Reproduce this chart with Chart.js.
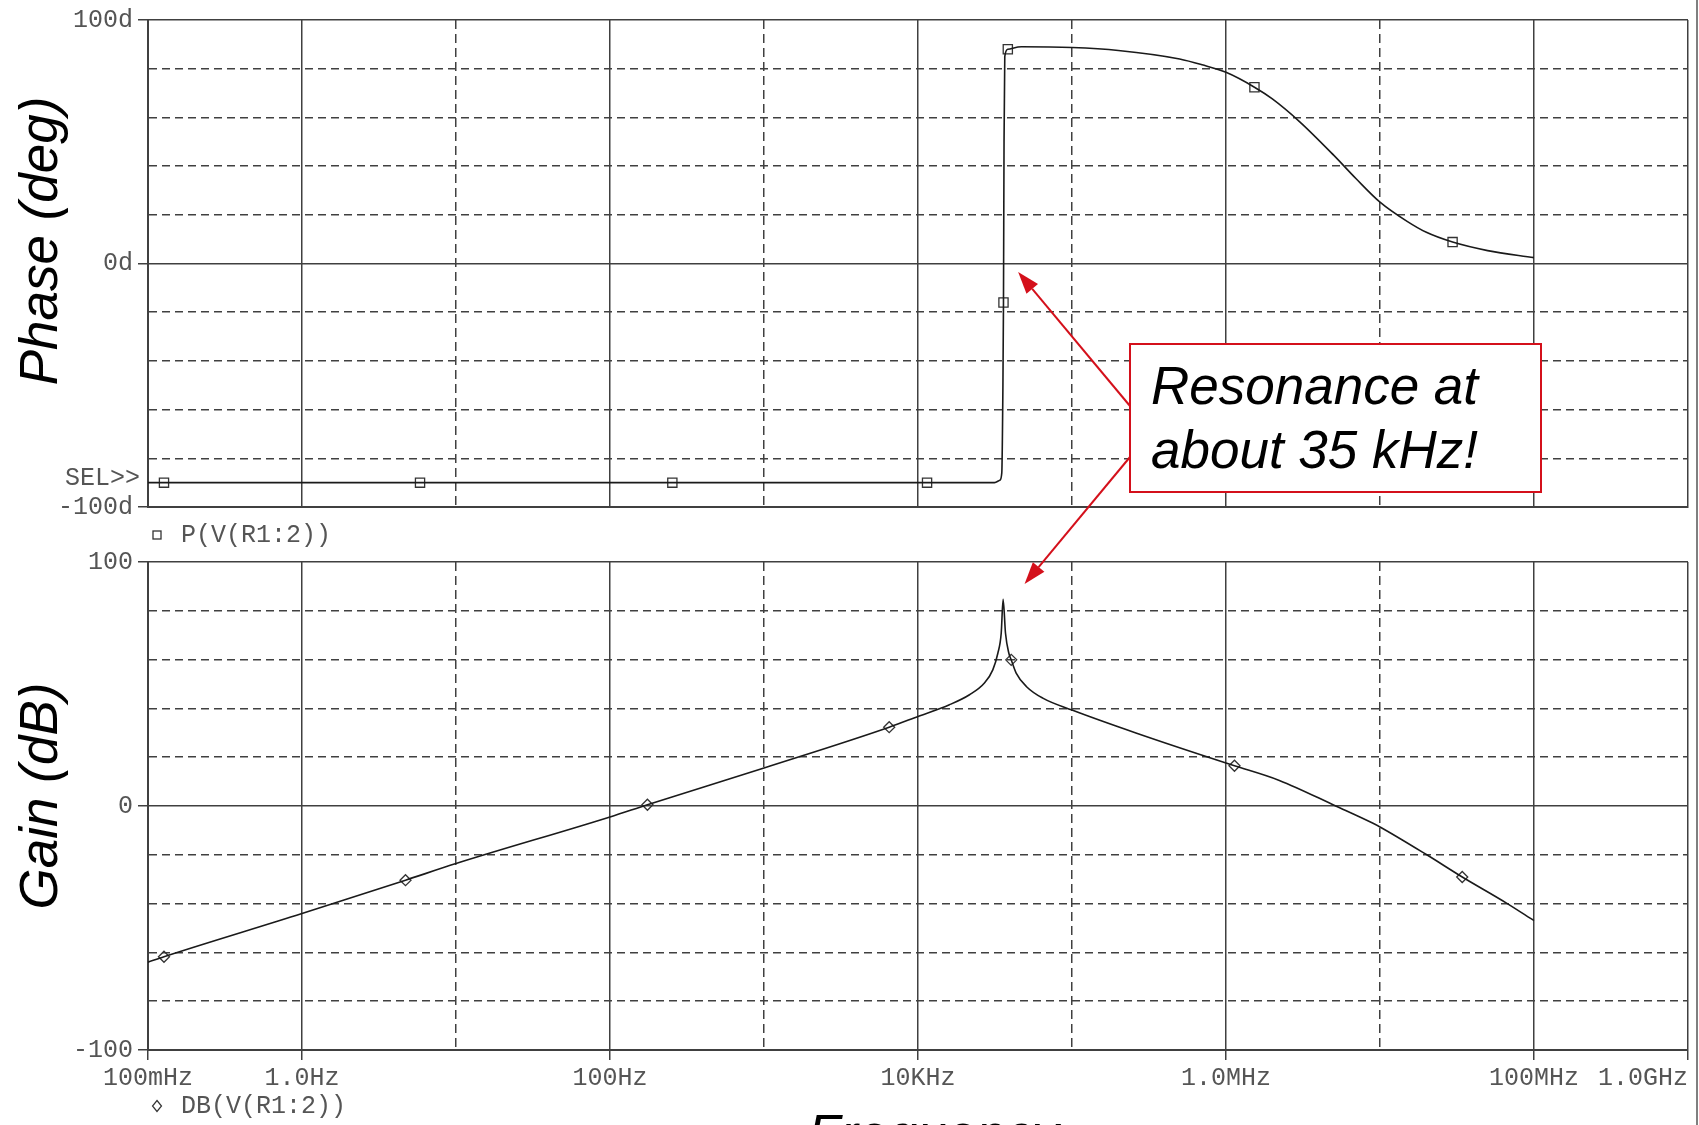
<!DOCTYPE html>
<html>
<head>
<meta charset="utf-8">
<title>Resonance - phase and gain</title>
<script src="https://cdn.jsdelivr.net/npm/chart.js@4.4.1/dist/chart.umd.min.js"></script>
<style>
  body { margin: 0; background: #fff; }
  #wrap { position: relative; width: 1699px; height: 1125px; overflow: hidden; }
  #wrap canvas { position: absolute; left: 0; top: 0; }
</style>
</head>
<body>
<div id="wrap">
  <canvas id="phaseChart" width="1699" height="1125"></canvas>
  <canvas id="gainChart" width="1699" height="1125"></canvas>
</div>
<script>
// frequency axis, one tick per decade
const freqTicks = [0.1, 1, 10, 100, 1e3, 1e4, 1e5, 1e6, 1e7, 1e8, 1e9];
const freqTickLabels = ["100mHz", "1.0Hz", "", "100Hz", "", "10KHz", "", "1.0MHz", "", "100MHz", "1.0GHz      "];
const solidFreqs = [0.1, 1, 100, 1e4, 1e6, 1e8, 1e9];

const phaseTickValues = [100, 0, -100];
const phaseTickText = ["100d", "0d", "-100d"];
const gainTickValues = [100, 0, -100];
const gainTickText = ["100", "0", "-100"];

// P(V(R1:2)) in degrees
const phaseFreq = [0.1, 1, 10, 100, 1e3, 1e4, 2e4, 3.14e4, 3.4e4, 3.5e4, 3.56e4, 3.59e4, 3.62e4, 3.66e4, 3.83e4, 4.7e4,
  1e5, 2e5, 5e5, 7e5, 1e6, 1.53e6, 2e6, 3e6, 5e6, 7e6, 1e7, 1.5e7, 2e7, 2.96e7, 5e7, 1e8];
const phaseDeg = [-90, -90, -90, -90, -90, -90, -90, -90, -89, -86, -50, -16, 50, 85, 88, 89,
  88.7, 87.5, 84, 81.6, 78.5, 72.4, 67.6, 58.3, 44.5, 34.8, 25.2, 17.3, 12.8, 8.8, 5.3, 2.4];
const phaseMarkFreq = [0.127, 5.84, 254, 1.145e4, 3.59e4, 3.83e4, 1.53e6, 2.96e7];
const phaseMarkDeg = [-90, -90, -90, -90, -16, 88, 72.4, 8.8];

// DB(V(R1:2))
const gainFreq = [0.1, 0.127, 1, 4.7, 10, 100, 175, 1e3, 6.5e3, 1e4, 1.6e4, 2.16e4, 2.7e4, 3.06e4, 3.3e4, 3.47e4,
  3.57e4, 3.7e4, 3.89e4, 4.03e4, 4.34e4, 5.05e4, 6.46e4, 1e5, 2.6e5, 1e6, 1.135e6, 2.22e6, 5.2e6, 8.94e6,
  1e7, 2e7, 3.42e7, 6.59e7, 1e8];
const gainDb = [-64, -61.8, -44.1, -30.4, -23.6, -4.5, 0.5, 15.6, 32.3, 36.7, 41.5, 45.6, 50.4, 55.8, 62.6, 70.8,
  84.7, 70.8, 62.6, 59.9, 54.5, 49, 44.2, 39.3, 29.9, 17.6, 16.5, 10.5, -0.1, -7,
  -8.6, -19.9, -29.1, -39.7, -47];
const gainMarkFreq = [0.127, 4.7, 175, 6.5e3, 4.03e4, 1.135e6, 3.42e7];
const gainMarkDb = [-61.8, -30.4, 0.5, 32.3, 59.9, 16.5, -29.1];

const gridColor = "#404040";
const textGray = "#555";
const curveColor = "#1a1a1a";
const red = "#d4101b";
const monoFont = { family: "'Liberation Mono', 'DejaVu Sans Mono', monospace", size: 25 };
const monoCss = "25px 'Liberation Mono', 'DejaVu Sans Mono', monospace";
const titleCss = "italic 53px 'Liberation Sans', Arial, sans-serif";

const pts = (xs, ys) => xs.map((x, i) => ({ x: x, y: ys[i] }));

function freqAxis(showLabels) {
  return {
    type: "logarithmic",
    min: 0.1,
    max: 1e9,
    afterBuildTicks: s => { s.ticks = freqTicks.map(v => ({ value: v })); },
    afterFit: s => { s.height = showLabels ? 40 : 0; s.paddingLeft = 0; s.paddingRight = 0; },
    ticks: {
      display: showLabels, autoSkip: false, maxRotation: 0, minRotation: 0, padding: 3,
      color: textGray, font: monoFont,
      callback: (v, i) => freqTickLabels[i]
    },
    grid: {
      color: gridColor, lineWidth: 1.5, drawTicks: showLabels, tickLength: 10,
      tickColor: ctx => (ctx.tick && solidFreqs.includes(ctx.tick.value)) ? gridColor : "rgba(0,0,0,0)"
    },
    border: {
      color: gridColor, width: 2,
      dash: ctx => (ctx.tick && !solidFreqs.includes(ctx.tick.value)) ? [9, 5] : []
    }
  };
}

function levelAxis(values, texts) {
  return {
    min: -100,
    max: 100,
    afterFit: s => { s.width = 148; },
    ticks: {
      stepSize: 20, padding: 5, color: textGray, font: monoFont,
      callback: v => { const k = values.indexOf(v); return k < 0 ? "" : texts[k]; }
    },
    grid: {
      color: gridColor, lineWidth: 1.5, tickLength: 10,
      tickColor: ctx => (ctx.tick && values.includes(ctx.tick.value)) ? gridColor : "rgba(0,0,0,0)"
    },
    border: {
      color: gridColor, width: 2,
      dash: ctx => (ctx.tick && !values.includes(ctx.tick.value)) ? [8, 5] : []
    }
  };
}

function curve(xs, ys) {
  return { data: pts(xs, ys), showLine: true, borderColor: curveColor, borderWidth: 1.6,
    pointRadius: 0, cubicInterpolationMode: "monotone" };
}
function marks(xs, ys, style, r) {
  return { data: pts(xs, ys), showLine: false, pointStyle: style, pointRadius: r,
    borderColor: "#333", borderWidth: 1.3, backgroundColor: "rgba(0,0,0,0)" };
}

function sideTitle(c, text, x, y) {
  c.save();
  c.translate(x, y);
  c.rotate(-Math.PI / 2);
  c.font = titleCss;
  c.fillStyle = "#000";
  c.textAlign = "center";
  c.textBaseline = "alphabetic";
  c.fillText(text, 0, 0);
  c.restore();
}

function arrow(c, x1, y1, x2, y2) {
  const a = Math.atan2(y2 - y1, x2 - x1);
  const len = 22, half = 7.5;
  const bx = x2 - len * Math.cos(a), by = y2 - len * Math.sin(a);
  c.beginPath();
  c.moveTo(x1, y1);
  c.lineTo(bx, by);
  c.stroke();
  c.beginPath();
  c.moveTo(x2, y2);
  c.lineTo(bx + half * Math.sin(a), by - half * Math.cos(a));
  c.lineTo(bx - half * Math.sin(a), by + half * Math.cos(a));
  c.closePath();
  c.fill();
}

const phaseExtras = {
  id: "phaseExtras",
  afterDraw(chart) {
    const c = chart.ctx, area = chart.chartArea, y = chart.scales.y;
    c.save();
    c.font = monoCss;
    c.fillStyle = textGray;
    c.textBaseline = "middle";
    c.textAlign = "right";
    c.fillText("SEL>>", area.left - 8, y.getPixelForValue(-90) - 4);
    c.textAlign = "left";
    c.fillText("P(V(R1:2))", area.left + 33, area.bottom + 28);
    c.strokeStyle = "#333";
    c.lineWidth = 1.3;
    c.strokeRect(area.left + 5, area.bottom + 24, 8, 8);
    c.restore();
    sideTitle(c, "Phase (deg)", 57, 241);
  }
};

let phaseChart;

const gainExtras = {
  id: "gainExtras",
  afterDraw(chart) {
    const c = chart.ctx, area = chart.chartArea;
    c.save();
    c.font = monoCss;
    c.fillStyle = textGray;
    c.textBaseline = "middle";
    c.textAlign = "left";
    c.fillText("DB(V(R1:2))", area.left + 33, area.bottom + 56);
    c.strokeStyle = "#333";
    c.lineWidth = 1.2;
    const dx = area.left + 9, dy = area.bottom + 56;
    c.beginPath();
    c.moveTo(dx, dy - 5.5); c.lineTo(dx + 4.5, dy); c.lineTo(dx, dy + 5.5); c.lineTo(dx - 4.5, dy);
    c.closePath();
    c.stroke();

    // window border on the right
    c.strokeStyle = "#555";
    c.lineWidth = 1.5;
    c.beginPath();
    c.moveTo(1697, 0); c.lineTo(1697, 1125);
    c.stroke();

    // axis title, mostly cut off by the bottom edge
    c.font = titleCss;
    c.fillStyle = "#000";
    c.textBaseline = "alphabetic";
    c.fillText("Frequency", 808, 1152);
    c.restore();
    sideTitle(c, "Gain (dB)", 57, 796);

    // annotation
    const box = { left: 1130, top: 344, width: 411, height: 148 };
    const px = phaseChart.scales.x, py = phaseChart.scales.y;
    const gx = chart.scales.x, gy = chart.scales.y;
    c.save();
    c.strokeStyle = red;
    c.fillStyle = red;
    c.lineWidth = 2;
    arrow(c, box.left, 406, px.getPixelForValue(4.47e4), py.getPixelForValue(-3.5));
    arrow(c, box.left, 457, gx.getPixelForValue(4.92e4), gy.getPixelForValue(91));
    c.fillStyle = "#fff";
    c.fillRect(box.left, box.top, box.width, box.height);
    c.strokeRect(box.left, box.top, box.width, box.height);
    c.fillStyle = "#000";
    c.font = titleCss;
    c.textAlign = "left";
    c.textBaseline = "alphabetic";
    c.fillText("Resonance at", box.left + 21, 404);
    c.fillText("about 35 kHz!", box.left + 21, 468);
    c.restore();
  }
};

const common = {
  responsive: false,
  animation: false,
  events: [],
  plugins: { legend: { display: false }, tooltip: { enabled: false } }
};

phaseChart = new Chart(document.getElementById("phaseChart"), {
  type: "scatter",
  data: {
    datasets: [
      curve(phaseFreq, phaseDeg),
      marks(phaseMarkFreq, phaseMarkDeg, "rect", 6.5)
    ]
  },
  options: {
    ...common,
    layout: { padding: { left: 0, right: 11, top: 20, bottom: 618 } },
    scales: {
      x: freqAxis(false),
      y: levelAxis(phaseTickValues, phaseTickText)
    }
  },
  plugins: [phaseExtras]
});

new Chart(document.getElementById("gainChart"), {
  type: "scatter",
  data: {
    datasets: [
      curve(gainFreq, gainDb),
      marks(gainMarkFreq, gainMarkDb, "rectRot", 5.5)
    ]
  },
  options: {
    ...common,
    layout: { padding: { left: 0, right: 11, top: 562, bottom: 35 } },
    scales: {
      x: freqAxis(true),
      y: levelAxis(gainTickValues, gainTickText)
    }
  },
  plugins: [gainExtras]
});
</script>
</body>
</html>
